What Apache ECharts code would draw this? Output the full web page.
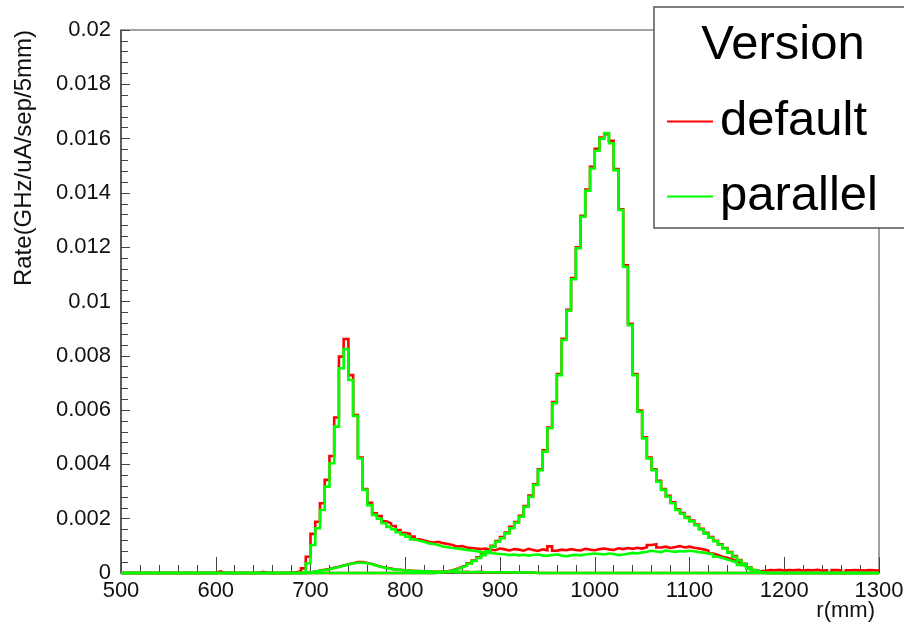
<!DOCTYPE html>
<html>
<head>
<meta charset="utf-8">
<script src="https://cdn.jsdelivr.net/npm/echarts@6/dist/echarts.min.js"></script>
<style>
  html, body { margin: 0; padding: 0; background: #fff; }
  #chart { width: 904px; height: 629px; }
</style>
</head>
<body>
<div id="chart"></div>
<script>
// Histogram binning: 5 mm bins over r = 500..1300 mm
const rMin = 500;
const rMax = 1300;
const binWidth = 5;

// Legend entries and colours
const versions = ['default', 'parallel'];
const versionColors = ['#ff0000', '#00ff00'];

// default version: first peak with long flat tail (first bin edge 600)
const defaultH1Start = 600;
const defaultH1 = [
  0.00006, 0, 0, 0, 0, 0, 0, 0, 0, 0.00004,
  0, 0, 0, 0, 0, 0, 0.00003, 0.00006, 0.00017, 0.0006,
  0.00144, 0.00189, 0.00257, 0.00343, 0.00431, 0.00573, 0.00797, 0.00862, 0.00729, 0.00582,
  0.00425, 0.00309, 0.00259, 0.0022, 0.0021, 0.0019, 0.00183, 0.00173, 0.00158, 0.00148,
  0.00144, 0.00134, 0.00124, 0.0012, 0.00115, 0.00112, 0.00115, 0.0011, 0.00107, 0.00103,
  0.00097, 0.00099, 0.00094, 0.00092, 0.0009, 0.00088, 0.0009, 0.00086, 0.00084, 0.0009,
  0.00087, 0.00083, 0.00088, 0.00086, 0.00082, 0.00089, 0.00085, 0.00081, 0.00087, 0.00084,
  0.00098, 0.00082, 0.00086, 0.00084, 0.00088, 0.00085, 0.00083, 0.00089, 0.00086, 0.00084,
  0.00088, 0.0009, 0.00087, 0.00085, 0.00091, 0.00088, 0.00092, 0.00089, 0.00093, 0.0009,
  0.00095, 0.00103, 0.00106, 0.00094, 0.00097, 0.00092, 0.00096, 0.00099, 0.00094, 0.00097,
  0.00093, 0.0009, 0.00087, 0.00082, 0.00072, 0.00066, 0.0006, 0.00056, 0.0005, 0.00044,
  0.00038, 0.0003, 0.0002, 0.0001, 0.00006, 0.00008, 0.00011, 0.0001, 0.00012, 0.00009,
  0.00011, 0.0001, 0.00012, 0.00009, 0.00011, 0.0001, 0.00012, 0.00009, 0.0001, 0,
  0.00011, 0.0001, 0, 0.0001, 0.00011, 0.0001, 0.00009, 0.00011, 0.0001, 0.00009
];

// default version: main peak near 1010 mm (first bin edge 830)
const defaultH2Start = 830;
const defaultH2 = [
  0.00001, 0.00004, 0.00006, 0.0001, 0.00016, 0.00022, 0.00028, 0.00036, 0.00046, 0.00058,
  0.00069, 0.00083, 0.001, 0.00118, 0.00132, 0.00149, 0.0017, 0.00188, 0.00211, 0.00247,
  0.00285, 0.00327, 0.00382, 0.00452, 0.00536, 0.0063, 0.00733, 0.00863, 0.00969, 0.01086,
  0.012, 0.01316, 0.01412, 0.01496, 0.01562, 0.01604, 0.01616, 0.01592, 0.01488, 0.0134,
  0.01133, 0.00918, 0.00733, 0.00598, 0.005, 0.00425, 0.00382, 0.0034, 0.00309, 0.00284,
  0.0026, 0.00235, 0.00221, 0.00206, 0.00193, 0.00178, 0.00163, 0.00148, 0.00132, 0.00119,
  0.00106, 0.00092, 0.00077, 0.00062, 0.00048, 0.00034, 0.00021, 0.00011, 0.00005, 0.00001
];

// default version: low bump near 750 mm (first bin edge 695)
const defaultH3Start = 695;
const defaultH3 = [
  0.00002, 0.00005, 0.00009, 0.00012, 0.00015, 0.00019, 0.00023, 0.00028, 0.00032, 0.00036,
  0.0004, 0.0004, 0.00037, 0.00033, 0.00028, 0.00023, 0.00019, 0.00016, 0.00013, 0.00012,
  0.0001, 0.00009, 0.00007, 0.00007, 0.00006, 0.00005, 0.00005, 0.00004, 0.00004, 0.00004,
  0.00004, 0.00004, 0.00003, 0.00004, 0.00003, 0.00003, 0.00004, 0.00003, 0.00003, 0.00003,
  0.00003, 0.00002, 0.00003, 0.00003, 0.00002, 0.00003, 0.00002, 0.00002
];

// parallel version: first peak with long flat tail (first bin edge 690)
const parallelH1Start = 690;
const parallelH1 = [
  0.00004, 0.00036, 0.00103, 0.00165, 0.00232, 0.00318, 0.00404, 0.00539, 0.00754, 0.00825,
  0.00711, 0.00578, 0.00422, 0.00306, 0.0025, 0.00214, 0.002, 0.00183, 0.0017, 0.00161,
  0.0015, 0.00142, 0.00134, 0.00124, 0.00119, 0.00115, 0.00109, 0.00107, 0.00103, 0.00097,
  0.00095, 0.00092, 0.0009, 0.00088, 0.00085, 0.00083, 0.00081, 0.00077, 0.00076, 0.00074,
  0.00072, 0.0007, 0.00069, 0.00066, 0.00068, 0.00065, 0.00067, 0.00064, 0.00066, 0.00068,
  0.00065, 0.00063, 0.00066, 0.00068, 0.00064, 0.00062, 0.00065, 0.00067, 0.00065, 0.00068,
  0.0007, 0.00072, 0.0007, 0.00068, 0.00072, 0.0007, 0.00066, 0.00068, 0.00071, 0.00074,
  0.00072, 0.00076, 0.00078, 0.00082, 0.00079, 0.00077, 0.00083, 0.0008, 0.00078, 0.00081,
  0.00079, 0.00082, 0.0008, 0.00077, 0.00075, 0.00072, 0.00068, 0.0006, 0.00055, 0.0005,
  0.00044, 0.00038, 0.0003, 0.00024, 0.00015, 0.00008, 0.00003
];

// parallel version: main peak near 1010 mm (first bin edge 830)
const parallelH2Start = 830;
const parallelH2 = [
  0.00001, 0.00003, 0.00005, 0.00009, 0.00014, 0.0002, 0.00026, 0.00034, 0.00044, 0.00055,
  0.00066, 0.0008, 0.00097, 0.00115, 0.00128, 0.00146, 0.00165, 0.00185, 0.00207, 0.00244,
  0.00281, 0.00324, 0.00379, 0.00447, 0.00533, 0.00625, 0.00729, 0.00858, 0.00966, 0.01082,
  0.01196, 0.01312, 0.01408, 0.0149, 0.01555, 0.016, 0.0162, 0.01583, 0.01484, 0.01337,
  0.01128, 0.00913, 0.00729, 0.00594, 0.00496, 0.00422, 0.00379, 0.00336, 0.00306, 0.00281,
  0.00257, 0.00232, 0.00218, 0.00203, 0.0019, 0.00176, 0.0016, 0.00145, 0.0013, 0.00117,
  0.00104, 0.0009, 0.00075, 0.0006, 0.00046, 0.00033, 0.0002, 0.0001, 0.00004, 0.00001
];

// parallel version: low bump near 750 mm (first bin edge 695)
const parallelH3Start = 695;
const parallelH3 = [
  0.00002, 0.00005, 0.00008, 0.00011, 0.00014, 0.00018, 0.00022, 0.00027, 0.00031, 0.00035,
  0.00038, 0.00038, 0.00036, 0.00032, 0.00027, 0.00022, 0.00018, 0.00015, 0.00013, 0.00011,
  0.0001, 0.00008, 0.00007, 0.00006, 0.00006, 0.00005, 0.00005, 0.00004, 0.00004, 0.00004,
  0.00004, 0.00003, 0.00004, 0.00003, 0.00003, 0.00004, 0.00003, 0.00003, 0.00003, 0.00003,
  0.00002, 0.00003, 0.00003, 0.00002, 0.00003, 0.00002, 0.00003, 0.00002
];

// Axis ranges and tick spacing
const xAxisMin = 500, xAxisMax = 1300, xAxisStep = 100;
const yAxisMin = 0, yAxisMax = 0.02, yAxisStep = 0.002;

const FONT = '"Liberation Sans", Arial, Helvetica, sans-serif';

// Turn bin contents into step-line points at bin lower edges (empty bins drawn at 0)
function histogramPoints(firstEdge, values) {
  const pts = [];
  let last = 0;
  for (let edge = rMin; edge < rMax; edge += binWidth) {
    const i = Math.round((edge - firstEdge) / binWidth);
    const v = (i >= 0 && i < values.length) ? values[i] : 0;
    pts.push([edge, v]);
    last = v;
  }
  pts.push([rMax, last]);
  return pts;
}

function histSeries(name, color, firstEdge, values, z) {
  return {
    type: 'line',
    name: name,
    step: 'end',
    showSymbol: false,
    symbol: 'none',
    clip: false,
    z: z,
    color: color,
    lineStyle: { color: color, width: 2.6, join: 'miter' },
    emphasis: { disabled: true },
    data: histogramPoints(firstEdge, values)
  };
}

// Plain numbers, no thousands separators
function plainLabel(v) {
  return String(parseFloat(v.toPrecision(6)));
}

const chart = echarts.init(document.getElementById('chart'), null, { renderer: 'canvas' });

chart.setOption({
  animation: false,
  backgroundColor: '#ffffff',
  grid: {
    left: 121, right: 25, top: 30, bottom: 56,
    outerBoundsMode: 'none',
    containLabel: false,
    show: true, borderColor: '#444', borderWidth: 1, backgroundColor: 'transparent'
  },
  xAxis: {
    type: 'value',
    min: xAxisMin, max: xAxisMax, interval: xAxisStep,
    axisLine: { show: true, lineStyle: { color: '#444', width: 1.5 } },
    axisTick: { show: true, inside: true, length: 16, lineStyle: { color: '#444', width: 1 } },
    minorTick: { show: true, splitNumber: 5, length: 8, lineStyle: { color: '#444', width: 1 } },
    splitLine: { show: false },
    axisLabel: { color: '#111', fontSize: 22, fontFamily: FONT, margin: 7, formatter: plainLabel }
  },
  yAxis: {
    type: 'value',
    min: yAxisMin, max: yAxisMax, interval: yAxisStep,
    axisLine: { show: true, lineStyle: { color: '#444', width: 1.5 } },
    axisTick: { show: true, inside: true, length: 9, lineStyle: { color: '#444', width: 1 } },
    minorTick: { show: true, splitNumber: 5, length: 7, lineStyle: { color: '#444', width: 1 } },
    splitLine: { show: false },
    axisLabel: { color: '#111', fontSize: 22, fontFamily: FONT, margin: 10, formatter: plainLabel }
  },
  legend: {
    data: versions,
    orient: 'vertical',
    left: 662,
    top: 92,
    itemWidth: 46,
    itemHeight: 2,
    itemGap: 26,
    icon: 'rect',
    selectedMode: false,
    z: 20,
    textStyle: { color: '#000', fontSize: 49, fontFamily: FONT, lineHeight: 48, padding: [0, 0, 0, 2] }
  },
  graphic: [
    {
      type: 'rect', z: 10, silent: true,
      shape: { x: 654, y: 7, width: 270, height: 221 },
      style: { fill: '#ffffff', stroke: '#555', lineWidth: 1.5 }
    },
    {
      type: 'text', z: 11, silent: true, x: 783, y: 45,
      style: { text: 'Version', fill: '#000', font: '49px ' + FONT, textAlign: 'center', textVerticalAlign: 'middle' }
    },
    {
      type: 'text', z: 11, silent: true, x: 875, y: 611,
      style: { text: 'r(mm)', fill: '#111', font: '22px ' + FONT, textAlign: 'right', textVerticalAlign: 'middle' }
    },
    {
      type: 'text', z: 11, silent: true, x: 24, y: 30, rotation: Math.PI / 2,
      style: { text: 'Rate(GHz/uA/sep/5mm)', fill: '#111', font: '24px ' + FONT, textAlign: 'right', textVerticalAlign: 'middle' }
    }
  ],
  series: [
    histSeries(versions[0], versionColors[0], defaultH1Start, defaultH1, 2),
    histSeries(versions[0], versionColors[0], defaultH2Start, defaultH2, 2),
    histSeries(versions[0], versionColors[0], defaultH3Start, defaultH3, 2),
    histSeries(versions[1], versionColors[1], parallelH1Start, parallelH1, 3),
    histSeries(versions[1], versionColors[1], parallelH2Start, parallelH2, 3),
    histSeries(versions[1], versionColors[1], parallelH3Start, parallelH3, 3)
  ]
});
</script>
</body>
</html>
